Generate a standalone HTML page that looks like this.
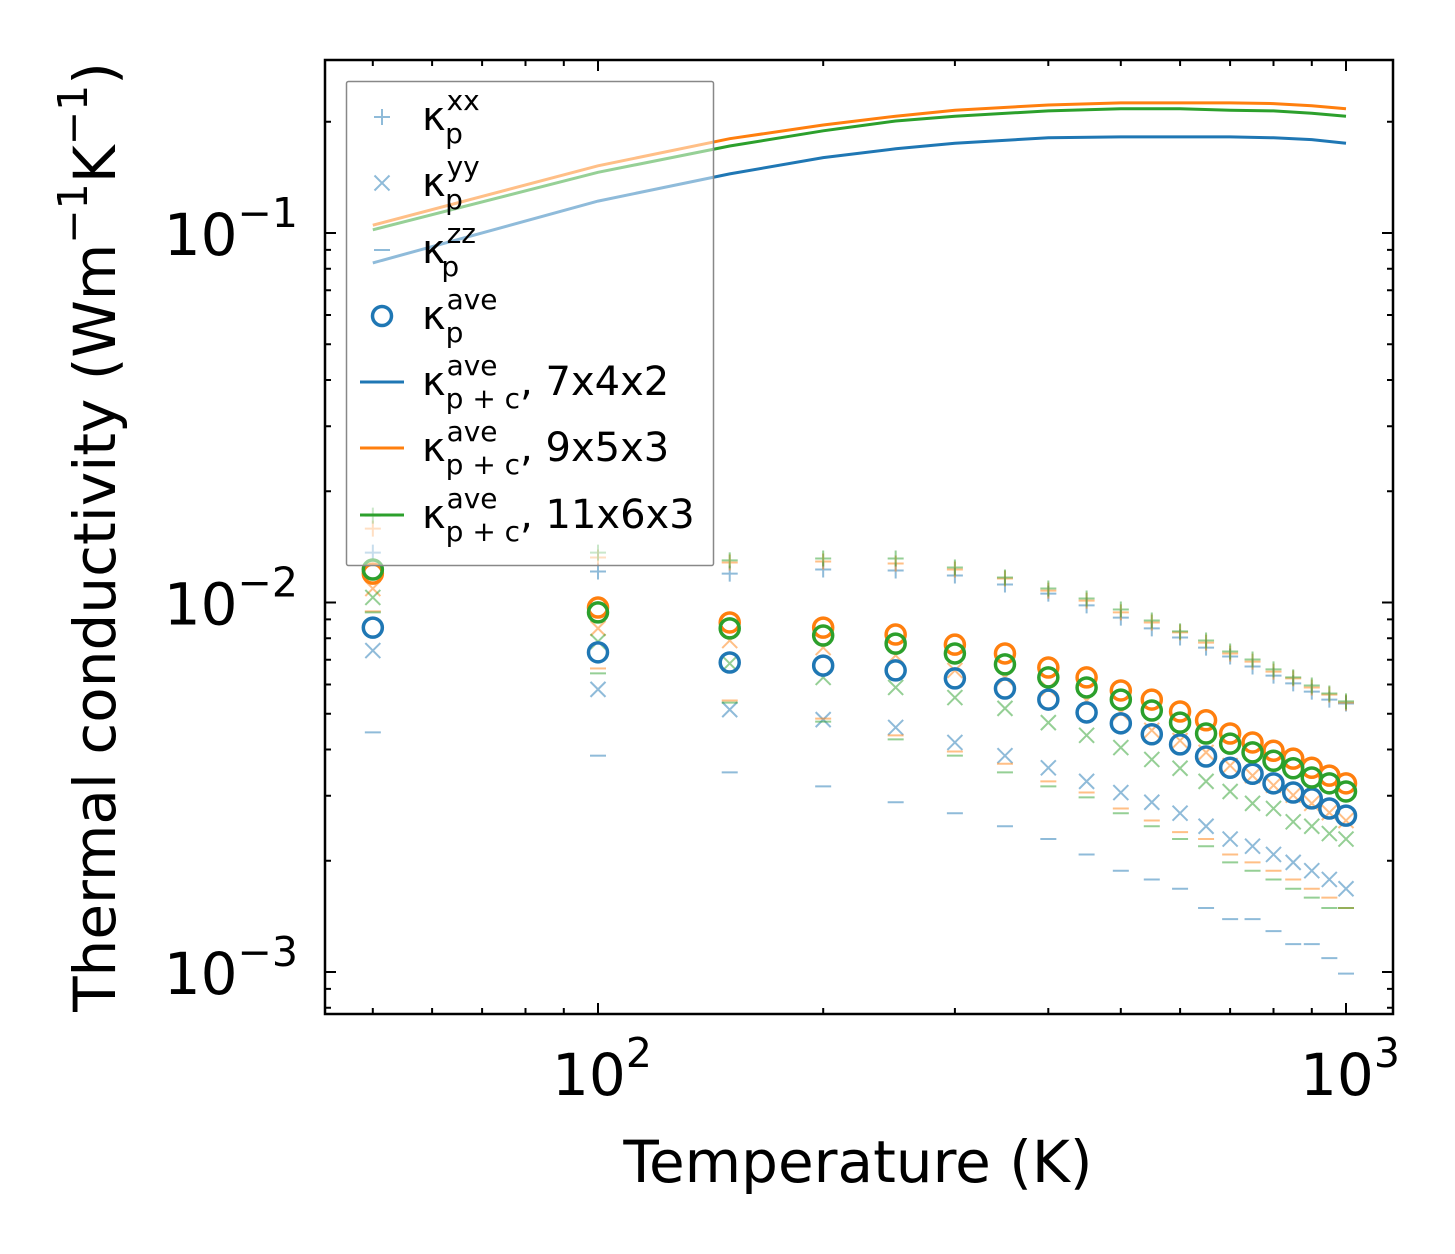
<!DOCTYPE html>
<html><head><meta charset="utf-8"><style>
html,body{margin:0;padding:0;background:#fff;}
svg{display:block;font-family:"DejaVu Sans","Liberation Sans",sans-serif;}
</style></head><body>
<svg id="chart" width="1455" height="1254" viewBox="0 0 1455 1254">
<g id="plot"></g>
<g id="axes"></g>
</svg>
<script>
const temps = [50,100,150,200,250,300,350,400,450,500,550,600,650,700,750,800,850,900,950,1000];
const lineTemps = [50,100,150,200,250,300,400,500,600,700,800,900,1000];
const line7x4x2 = [0.0830,0.122,0.1445,0.160,0.169,0.175,0.181,0.182,0.182,0.182,0.181,0.179,0.175];
const line9x5x3 = [0.105,0.152,0.180,0.196,0.207,0.215,0.222,0.225,0.225,0.225,0.224,0.221,0.217];
const line11x6x3 = [0.102,0.146,0.172,0.189,0.201,0.207,0.214,0.217,0.217,0.215,0.214,0.211,0.207];
// units of 1e-3
const xxBlue = [13.65,12.13,11.97,12.28,12.21,11.83,11.19,10.57,9.82,9.10,8.51,8.04,7.55,7.14,6.71,6.34,6.04,5.74,5.46,5.33];
const xxOrange = [15.85,13.24,12.83,12.91,12.75,12.28,11.61,10.77,10.12,9.40,8.83,8.30,7.79,7.28,6.92,6.50,6.23,5.89,5.63,5.36];
const xxGreen = [17.18,13.65,13.00,13.15,13.15,12.44,11.69,10.91,10.25,9.57,8.94,8.35,7.89,7.37,7.01,6.59,6.27,5.96,5.67,5.40];
const yyBlue = [7.41,5.82,5.13,4.82,4.59,4.18,3.85,3.57,3.28,3.06,2.88,2.69,2.48,2.29,2.19,2.08,1.98,1.88,1.78,1.68];
const yyOrange = [10.91,8.51,7.89,7.55,7.19,6.55,6.27,5.85,5.43,5.04,4.51,4.23,3.93,3.62,3.40,3.20,3.01,2.86,2.70,2.57];
const yyGreen = [10.32,7.84,6.84,6.27,5.89,5.53,5.17,4.73,4.37,4.05,3.76,3.56,3.28,3.08,2.86,2.77,2.55,2.48,2.37,2.29];
const zzBlue = [4.45,3.85,3.47,3.18,2.88,2.69,2.48,2.29,2.08,1.88,1.78,1.68,1.49,1.39,1.39,1.29,1.19,1.19,1.09,0.99];
const zzOrange = [9.46,6.63,5.43,4.85,4.37,3.95,3.66,3.28,3.06,2.77,2.57,2.39,2.29,2.08,1.98,1.88,1.78,1.68,1.59,1.49];
const zzGreen = [9.40,6.43,5.36,4.76,4.26,3.85,3.47,3.18,2.97,2.69,2.48,2.29,2.19,1.98,1.88,1.78,1.68,1.59,1.49,1.49];
const aveBlue = [8.55,7.33,6.88,6.75,6.55,6.23,5.85,5.46,5.04,4.71,4.40,4.13,3.83,3.57,3.44,3.24,3.06,2.95,2.77,2.65];
const aveOrange = [11.97,9.69,8.83,8.55,8.19,7.69,7.28,6.67,6.27,5.78,5.46,5.07,4.80,4.42,4.18,3.97,3.78,3.57,3.40,3.24];
const aveGreen = [12.28,9.40,8.51,8.14,7.74,7.28,6.80,6.27,5.89,5.46,5.10,4.73,4.42,4.15,3.93,3.73,3.56,3.36,3.24,3.08];

const NS = "http://www.w3.org/2000/svg";
const L = 325, R = 1393, T = 60, B = 1014;
const xDec = 748, x100 = 598, yDec = 369.5, y01 = 233;
function xs(t){ return x100 + (Math.log10(t) - 2) * xDec; }
function ys(v){ return y01 - (Math.log10(v) + 1) * yDec; }
const plot = document.getElementById('plot');
const axes = document.getElementById('axes');
function mk(tag, attrs, parent){
  const e = document.createElementNS(NS, tag);
  for (const k in attrs) e.setAttribute(k, attrs[k]);
  parent.appendChild(e); return e;
}
const C = {blue:'#1f77b4', orange:'#ff7f0e', green:'#2ca02c'};

const defs = mk('defs', {}, plot);
const cp = mk('clipPath', {id:'clip'}, defs);
mk('rect', {x:L, y:T, width:R-L, height:B-T}, cp);
const g = mk('g', {'clip-path':'url(#clip)'}, plot);

function plus(x,y,col,p){ return mk('path',{d:`M${x-8},${y}H${x+8}M${x},${y-8}V${y+8}`,stroke:col,'stroke-width':2,'stroke-opacity':0.5,fill:'none'},p); }
function cross(x,y,col,p){ return mk('path',{d:`M${x-7.5},${y-7.5}L${x+7.5},${y+7.5}M${x-7.5},${y+7.5}L${x+7.5},${y-7.5}`,stroke:col,'stroke-width':2,'stroke-opacity':0.5,fill:'none'},p); }
function dash(x,y,col,p){ return mk('path',{d:`M${x-8},${y}H${x+8}`,stroke:col,'stroke-width':2,'stroke-opacity':0.5,fill:'none'},p); }
function circ(x,y,col,p){ return mk('circle',{cx:x,cy:y,r:9.5,stroke:col,'stroke-width':3.5,fill:'none'},p); }

const sets = [
  {col:C.blue, xx:xxBlue, yy:yyBlue, zz:zzBlue, ave:aveBlue, line:line7x4x2, n:'7x4x2'},
  {col:C.orange, xx:xxOrange, yy:yyOrange, zz:zzOrange, ave:aveOrange, line:line9x5x3, n:'9x5x3'},
  {col:C.green, xx:xxGreen, yy:yyGreen, zz:zzGreen, ave:aveGreen, line:line11x6x3, n:'11x6x3'}
];
sets.forEach(s => {
  temps.forEach((t,i) => {
    const x = xs(t);
    const p1 = plus(x, ys(s.xx[i]*1e-3), s.col, g);
    
    
    const p2 = cross(x, ys(s.yy[i]*1e-3), s.col, g);
    
    
    const p3 = dash(x, ys(s.zz[i]*1e-3), s.col, g);
    
    
  });
});
sets.forEach(s => {
  temps.forEach((t,i) => {
    const c = circ(xs(t), ys(s.ave[i]*1e-3), s.col, g);
    
    
  });
  const d = lineTemps.map((t,i)=> (i?'L':'M') + xs(t).toFixed(1) + ',' + ys(s.line[i]).toFixed(1)).join('');
  const ln = mk('path', {d:d, stroke:s.col, 'stroke-width':3, fill:'none'}, g);
  
  
});

// legend
const lg = mk('g', {}, plot);


mk('rect', {x:346.5, y:81.5, width:367, height:484, fill:'#fff', 'fill-opacity':0.5, stroke:'#888', 'stroke-width':1.5, rx:2}, lg);
const rows = [117,183,250,316,382,448,515];
const lx = 382, tx = 422;
plus(lx, rows[0], C.blue, lg);
cross(lx, rows[1], C.blue, lg);
dash(lx, rows[2], C.blue, lg);
circ(lx, rows[3], C.blue, lg);
mk('path', {d:`M${lx-22},${rows[4]}H${lx+22}`, stroke:C.blue,'stroke-width':3}, lg);
mk('path', {d:`M${lx-22},${rows[5]}H${lx+22}`, stroke:C.orange,'stroke-width':3}, lg);
mk('path', {d:`M${lx-22},${rows[6]}H${lx+22}`, stroke:C.green,'stroke-width':3}, lg);
const labels = [['xx','p',''],['yy','p',''],['zz','p',''],['ave','p',''],['ave','p + c',', 7x4x2'],['ave','p + c',', 9x5x3'],['ave','p + c',', 11x6x3']];
labels.forEach((lb,i) => {
  const t = mk('text', {x:tx, y:rows[i]+13, 'font-size':40, fill:'#000'}, lg);
  
  
  t.innerHTML = `κ<tspan font-size="28" dy="-20" dx="1">${lb[0]}</tspan><tspan font-size="28" dy="33" dx="${-(lb[0].length*17.3)}">${lb[1]}</tspan><tspan dy="-13">${lb[2]}</tspan>`;
});

// axes frame
mk('rect', {x:L, y:T, width:R-L, height:B-T, fill:'none', stroke:'#000', 'stroke-width':2.5}, axes);
let tk = '';
for (let e=-4; e<=0; e++){
  for (let m=1; m<=9; m++){
    const v = m*Math.pow(10,e);
    const y = ys(v);
    if (y < T || y > B) continue;
    const len = m===1 ? 11 : 6;
    tk += `M${L},${y.toFixed(1)}h${len}M${R},${y.toFixed(1)}h${-len}`;
  }
}
for (let e=1; e<=3; e++){
  for (let m=1; m<=9; m++){
    const t = m*Math.pow(10,e);
    const x = xs(t);
    if (x < L || x > R) continue;
    const len = m===1 ? 11 : 6;
    tk += `M${x.toFixed(1)},${B}v${-len}M${x.toFixed(1)},${T}v${len}`;
  }
}
mk('path', {d:tk, stroke:'#000', 'stroke-width':2, fill:'none'}, axes);
const yExp = [-1,-2,-3];
yExp.forEach(e => {
  const t = mk('text', {x:298, y:ys(Math.pow(10,e))+22, 'font-size':58, 'text-anchor':'end', fill:'#000'}, axes);
  
  
  t.innerHTML = `10<tspan font-size="41" dy="-28">−${-e}</tspan>`;
});
const xExp = [2,3];
xExp.forEach(e => {
  const t = mk('text', {x:xs(Math.pow(10,e))-46, y:1095, 'font-size':58, 'text-anchor':'start', fill:'#000'}, axes);
  
  
  t.innerHTML = `10<tspan font-size="41" dy="-28">${e}</tspan>`;
});
const xt = mk('text', {x:858, y:1182, 'font-size':58, 'text-anchor':'middle', fill:'#000'}, axes);


xt.textContent = 'Temperature (K)';
const yt = mk('text', {x:0, y:0, 'font-size':58, 'text-anchor':'middle', fill:'#000', transform:'translate(115,537) rotate(-90)'}, axes);


yt.innerHTML = 'Thermal conductivity (Wm<tspan font-size="41" dy="-28">−1</tspan><tspan dy="28">K</tspan><tspan font-size="41" dy="-28">−1</tspan><tspan dy="28">)</tspan>';
</script>
</body></html>
